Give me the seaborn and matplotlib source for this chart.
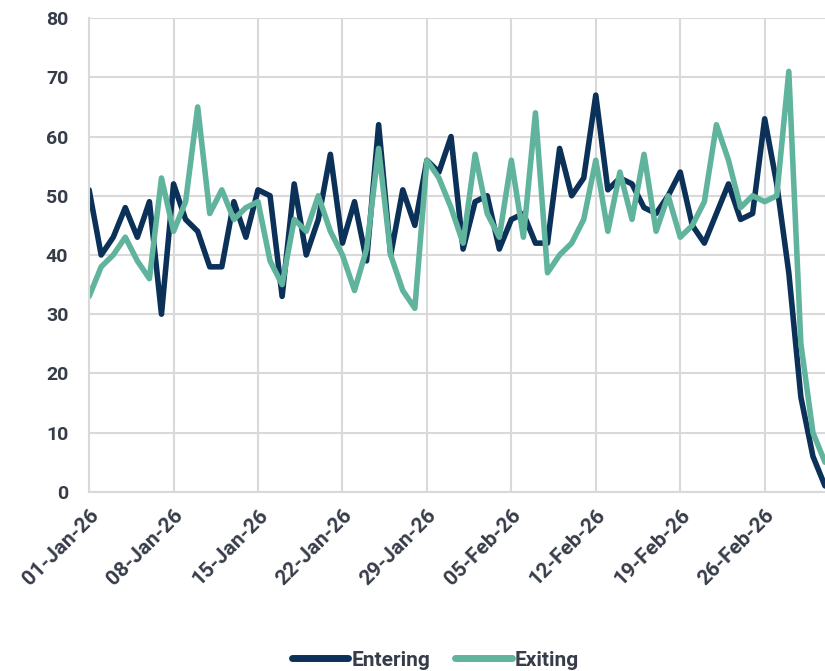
import matplotlib
matplotlib.use("Agg")
import matplotlib.pyplot as plt
import matplotlib.dates as mdates
import seaborn as sns
import pandas as pd

# daily counts, 01-Jan-26 .. 03-Mar-26
dates = pd.date_range("2026-01-01", "2026-03-03", freq="D")

entering = [51, 40, 43, 48, 43, 49, 30, 52, 46, 44, 38, 38, 49, 43, 51, 50,
            33, 52, 40, 46, 57, 42, 49, 39, 62, 40, 51, 45, 56, 54, 60, 41,
            49, 50, 41, 46, 47, 42, 42, 58, 50, 53, 67, 51, 53, 52, 48, 47,
            50, 54, 45, 42, 47, 52, 46, 47, 63, 52, 37, 16, 6, 1]
exiting = [33, 38, 40, 43, 39, 36, 53, 44, 49, 65, 47, 51, 46, 48, 49, 39,
           35, 46, 44, 50, 44, 40, 34, 41, 58, 40, 34, 31, 56, 53, 48, 42,
           57, 47, 43, 56, 43, 64, 37, 40, 42, 46, 56, 44, 54, 46, 57, 44,
           50, 43, 45, 49, 62, 56, 48, 50, 49, 50, 71, 25, 10, 5]

series_names = ["Entering", "Exiting"]
colors = ["#0b3158", "#60b39c"]

df = pd.concat([
    pd.DataFrame({"Date": dates, "Count": entering, "Series": "Entering"}),
    pd.DataFrame({"Date": dates, "Count": exiting, "Series": "Exiting"}),
])

sns.set_theme(style="whitegrid")
plt.rcParams["font.family"] = ["Roboto", "DejaVu Sans"]

fig = plt.figure(figsize=(8.25, 6.71), dpi=100)
ax = fig.add_axes([0.108, 0.267, 0.892, 0.706])

sns.lineplot(data=df, x="Date", y="Count", hue="Series", hue_order=series_names,
             palette=colors, linewidth=4, ax=ax, solid_joinstyle="round",
             solid_capstyle="round", legend=False)

ax.set_xlim(dates[0], dates[-1])
ax.set_ylim(0, 80)
ax.set_yticks(range(0, 81, 10))
ax.set_xticks(dates[::7])
ax.xaxis.set_major_formatter(mdates.DateFormatter("%d-%b-%y"))

text_color = "#363c48"
for lab in ax.get_yticklabels():
    lab.set_fontweight("bold")
    lab.set_fontsize(14)
    lab.set_color(text_color)
for lab in ax.get_xticklabels():
    lab.set_fontweight("bold")
    lab.set_fontsize(15)
    lab.set_color(text_color)
    lab.set_rotation(45)
    lab.set_ha("right")
    lab.set_rotation_mode("anchor")

ax.grid(True, color="#d9d9d9", linewidth=1.5)
ax.tick_params(axis="x", length=5, color="#d9d9d9", width=1.5, pad=5)
ax.tick_params(axis="y", length=0, pad=15)
for side in ["top", "right"]:
    ax.spines[side].set_visible(False)
ax.spines["left"].set_color("#d9d9d9")
ax.spines["left"].set_linewidth(1.5)
ax.spines["bottom"].set_color("#d9d9d9")
ax.spines["bottom"].set_linewidth(1.5)
ax.set_xlabel("")
ax.set_ylabel("")

handles = [plt.Line2D([], [], color=c, linewidth=5, solid_capstyle="round")
           for c in colors]
leg = fig.legend(handles, series_names, loc="center",
                 bbox_to_anchor=(0.528, 0.016), ncol=2, frameon=False,
                 handlelength=2.7, columnspacing=1.2, handletextpad=0.15,
                 borderpad=0, prop={"weight": "bold", "size": 15})
for t in leg.get_texts():
    t.set_color(text_color)

fig.savefig("out.png", dpi=100)
